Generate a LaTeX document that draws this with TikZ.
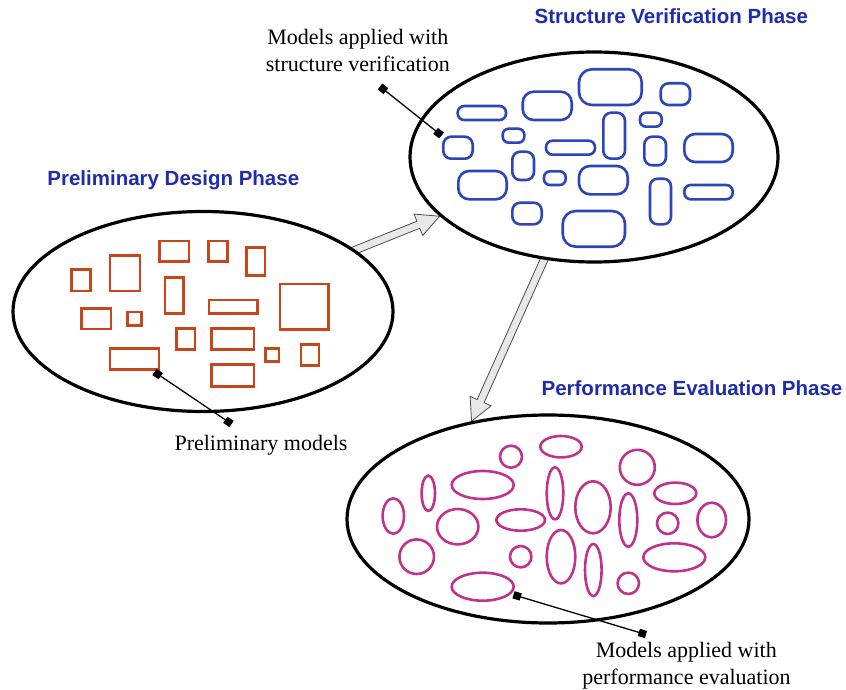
\documentclass[tikz,border=0pt]{standalone}
\usepackage{fontspec}
\setmainfont{Liberation Serif}
\newfontfamily\titlefont{Liberation Sans}
\usetikzlibrary{shapes.geometric,calc,arrows.meta}
\definecolor{titleblue}{RGB}{31,45,170}
\definecolor{prered}{RGB}{200,70,26}
\definecolor{svblue}{RGB}{44,69,184}
\definecolor{pemag}{RGB}{192,51,140}
\definecolor{arrowfill}{RGB}{232,232,232}
\definecolor{arrowline}{RGB}{75,75,75}
\pgfdeclarelayer{bg}
\pgfsetlayers{bg,main}
\newcommand{\svr}[5]{\draw[svbox, rounded corners=#5pt] (#1,#2) rectangle (#3,#4);}
\newcommand{\prr}[4]{\draw[prebox] (#1,#2) rectangle (#3,#4);}
\newcommand{\pel}[4]{\draw[pebox] (#1,#2) ellipse [x radius=#3, y radius=#4];}
\begin{document}
\begin{tikzpicture}[x=1pt,y=-1pt,
  phase/.style={ellipse, draw=black, line width=3.2pt, fill=white, inner sep=0pt},
  phasetitle/.style={font=\titlefont\bfseries\fontsize{20.5}{24}\selectfont, text=titleblue, anchor=base, inner sep=0pt},
  modellabel/.style={font=\fontsize{22}{26}\selectfont, anchor=base, inner sep=0pt},
  leader/.style={line width=1.3pt, {Square[length=7.5pt,width=7.5pt]}-{Square[length=7.5pt,width=7.5pt]}},
  blockarrow/.style={fill=arrowfill, draw=arrowline, line width=0.8pt, line join=miter},
  prebox/.style={draw=prered, line width=2.6pt, line join=miter},
  svbox/.style={draw=svblue, line width=2.6pt},
  pebox/.style={draw=pemag, line width=2.6pt},
]
\useasboundingbox (0,0) rectangle (846,690);

% phase ellipses
\node[phase, minimum width=380pt, minimum height=200pt] (pre) at (203,311.5) {};
\node[phase, minimum width=368pt, minimum height=210pt] (sv) at (594,157) {};
\node[phase, minimum width=402pt, minimum height=208pt] (pe) at (548,519) {};

% block arrows (behind the ellipses)
\begin{pgfonlayer}{bg}
\coordinate (a1t) at ($(pre.22)!4pt!(pre.center)$);
\coordinate (a1p) at (sv.201.5);
\coordinate (a1b) at ($(a1p)!23pt!(a1t)$);
\path[blockarrow] ($(a1t)!3.8pt!90:(a1p)$) -- ($(a1b)!3.8pt!90:(a1p)$) -- ($(a1b)!11.5pt!90:(a1p)$) -- (a1p)
  -- ($(a1b)!11.5pt!-90:(a1p)$) -- ($(a1b)!3.8pt!-90:(a1p)$) -- ($(a1t)!3.8pt!-90:(a1p)$) -- cycle;
\coordinate (a2t) at ($(sv.244)!4pt!(sv.center)$);
\coordinate (a2p) at (pe.128);
\coordinate (a2b) at ($(a2p)!22pt!(a2t)$);
\path[blockarrow] ($(a2t)!3.8pt!90:(a2p)$) -- ($(a2b)!3.8pt!90:(a2p)$) -- ($(a2b)!11.5pt!90:(a2p)$) -- (a2p)
  -- ($(a2b)!11.5pt!-90:(a2p)$) -- ($(a2b)!3.8pt!-90:(a2p)$) -- ($(a2t)!3.8pt!-90:(a2p)$) -- cycle;
\end{pgfonlayer}

% preliminary models
\prr{71.7}{269.3}{90.7}{291}
\prr{110}{255.7}{140}{291}
\prr{159.3}{241}{189}{261.7}
\prr{208.3}{241}{227.3}{261.7}
\prr{246.7}{247.7}{265}{275.3}
\prr{165}{277.7}{183.3}{313.3}
\prr{81.7}{308.3}{111}{329}
\prr{127.7}{312}{141.3}{325.3}
\prr{209}{300}{257.3}{313.3}
\prr{280}{284}{328.3}{329.3}
\prr{176.7}{328.3}{195}{349.7}
\prr{211.7}{328.3}{254}{349.7}
\prr{110}{348.3}{159}{369.7}
\prr{265.7}{348.3}{279}{361.7}
\prr{301}{344.3}{319}{365.7}
\prr{211.7}{364.7}{254}{386.7}

% structure verification models
\svr{457.7}{106}{506}{120}{6.5}
\svr{522.7}{91.7}{571.7}{120}{11}
\svr{579}{69.3}{641.7}{105}{13}
\svr{660.7}{83.3}{690}{105}{8}
\svr{502.7}{128.7}{524.3}{142.7}{6}
\svr{603.3}{112.7}{625}{158.7}{8}
\svr{640}{112.7}{661.7}{126.7}{6}
\svr{443.3}{136.7}{472.7}{158.7}{8}
\svr{546}{140.7}{595}{154.7}{6.5}
\svr{644.3}{136.7}{666}{165.3}{8}
\svr{684.3}{134}{732.7}{162}{11}
\svr{512.3}{151.7}{534}{180}{8}
\svr{544}{171.3}{565.7}{185}{6}
\svr{579}{166}{627.7}{194.3}{11}
\svr{458.3}{171}{506.7}{199.3}{11}
\svr{650}{178.7}{671}{224.3}{7.5}
\svr{684.3}{185}{732.7}{199.3}{6.5}
\svr{512.3}{202.7}{541.7}{224.3}{8}
\svr{562.7}{211}{625}{246.7}{13}

% performance evaluation models
\pel{511}{456.7}{11}{11}
\pel{561}{446.7}{20.7}{10.7}
\pel{637.3}{467.3}{17.5}{17.5}
\pel{428.3}{493.3}{6.7}{17.7}
\pel{482.7}{485}{31}{14}
\pel{555}{493.3}{8.3}{26}
\pel{675.3}{493.3}{21}{10.7}
\pel{393.3}{516}{10.7}{17.7}
\pel{457.7}{526.7}{20.7}{17.7}
\pel{520.7}{520}{24.3}{10.7}
\pel{593}{507.3}{17.7}{26}
\pel{628.3}{520}{9}{26.7}
\pel{667.7}{523.3}{10.7}{10.7}
\pel{711.7}{520}{14.3}{17.3}
\pel{416.7}{556.7}{17.3}{17.3}
\pel{520.7}{556.7}{10.7}{10.7}
\pel{561}{556.7}{14.3}{26.7}
\pel{593.3}{570}{8.3}{26}
\pel{674.3}{557.3}{31}{14}
\pel{628.3}{583.3}{10.7}{10.7}
\pel{482.7}{586.7}{31}{14}

% phase titles
\node[phasetitle] (tpre) at (173.3,185) {Preliminary Design Phase};
\node[phasetitle] (tsv) at (671.3,24) {Structure Verification Phase};
\node[phasetitle] (tpe) at (692,395) {Performance Evaluation Phase};

% model labels
\node[modellabel] (lpre) at (261,450.7) {Preliminary models};
\node[modellabel] (lsv1) at (357.8,45) {Models applied with};
\node[modellabel] (lsv2) at (357.8,71.7) {structure verification};
\node[modellabel] (lpe1) at (686.3,657.3) {Models applied with};
\node[modellabel] (lpe2) at (686.5,684) {performance evaluation};

% leaders
\coordinate (lpreA) at (154.5,372);
\coordinate (lpreB) at (231.5,424);
\draw[leader] (lpreA) -- (lpreB);
\coordinate (lsvA) at (380,86.5);
\coordinate (lsvB) at (441.5,135.5);
\draw[leader] (lsvA) -- (lsvB);
\coordinate (lpeA) at (513.5,594.8);
\coordinate (lpeB) at (646,634.5);
\draw[leader] (lpeA) -- (lpeB);
\end{tikzpicture}
\end{document}
